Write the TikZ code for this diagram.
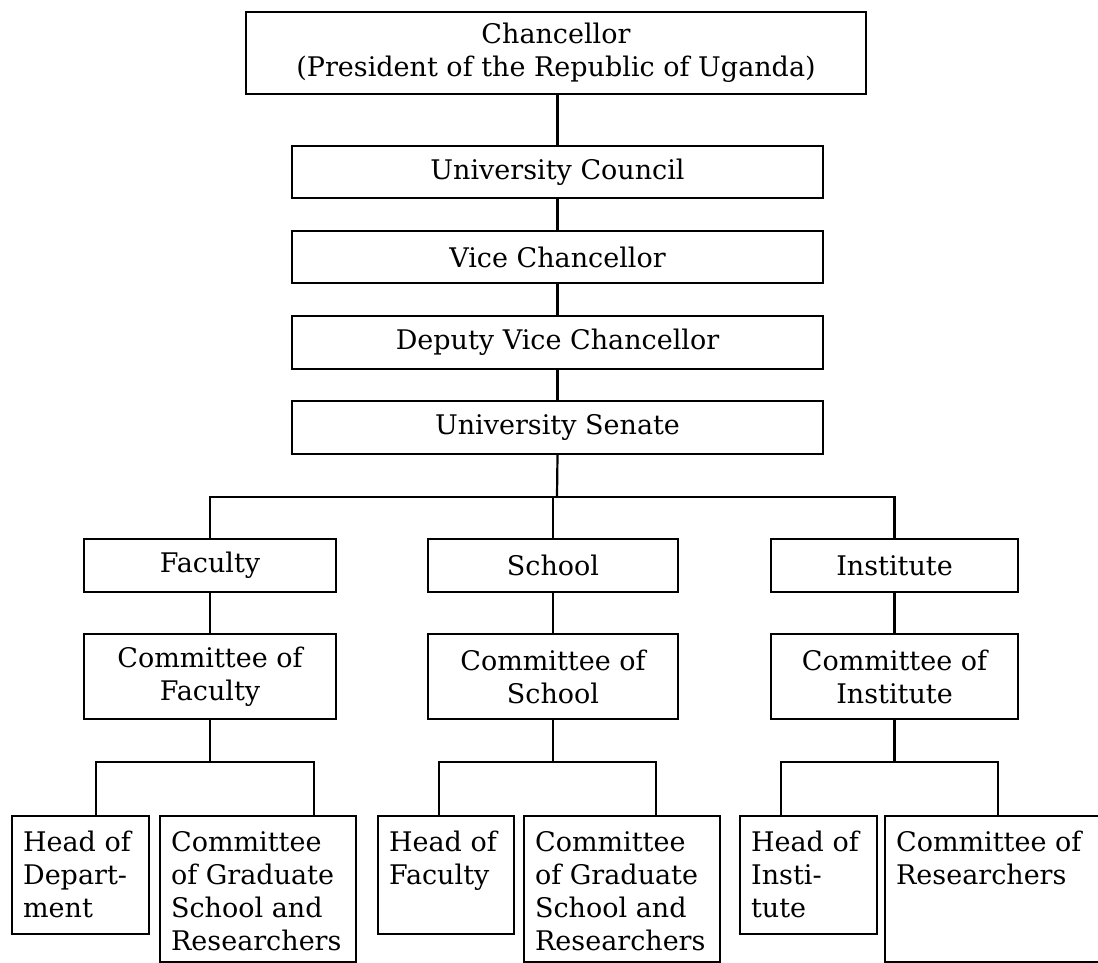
\documentclass[tikz,border=0pt]{standalone}
\usepackage{fontspec}
\setmainfont{DejaVu Serif}
\newcommand{\lowtext}[3]{\parbox[c][#2][t]{#1}{\raggedright\leftskip=11pt\relax\vspace*{12pt}\strut #3}}
\begin{document}
\begin{tikzpicture}[x=1pt,y=-1pt,
  box/.style={draw, line width=2.2pt, inner sep=0pt, align=center,
    font=\fontsize{27}{33}\selectfont},
  lowbox/.style={draw, line width=2.2pt, inner sep=0pt, anchor=north west,
    font=\fontsize{27}{33}\selectfont},
  link/.style={line width=2.2pt}]
\useasboundingbox (0,0) rectangle (1098,963);
\clip (0,0) rectangle (1098,963);
% central column
\node[box, minimum width=620pt, minimum height=82pt] (ch) at (556,53)
  {Chancellor\\(President of the Republic of Uganda)};
\node[box, minimum width=531pt, minimum height=52pt] (uc) at (557.5,172) {University Council};
\node[box, minimum width=531pt, minimum height=52pt] (vc) at (557.5,257) {Vice Chancellor};
\node[box, minimum width=531pt, minimum height=53pt] (dvc) at (557.5,342.5) {Deputy Vice Chancellor};
\node[box, minimum width=531pt, minimum height=53pt] (sen) at (557.5,427.5) {University Senate};
% second level
\node[box, minimum width=252pt, minimum height=53pt] (fac) at (210,565.5) {Faculty};
\node[box, minimum width=250pt, minimum height=53pt] (sch) at (553,565.5) {School};
\node[box, minimum width=247pt, minimum height=53pt] (ins) at (894.5,565.5) {Institute};
\node[box, minimum width=252pt, minimum height=85pt] (cf) at (210,676.5) {Committee of\\Faculty};
\node[box, minimum width=250pt, minimum height=85pt] (cs) at (553,676.5) {Committee of\\School};
\node[box, minimum width=247pt, minimum height=85pt] (ci) at (894.5,676.5) {Committee of\\Institute};
% bottom level
\node[lowbox] (hd) at (11,815) {\lowtext{137pt}{118pt}{Head of\\Depart-\\ment}};
\node[lowbox] (cg1) at (159,815) {\lowtext{196pt}{146pt}{Committee\\of Graduate\\School and\\Researchers}};
\node[lowbox] (hf) at (377,815) {\lowtext{136pt}{118pt}{Head of\\Faculty}};
\node[lowbox] (cg2) at (523,815) {\lowtext{196pt}{146pt}{Committee\\of Graduate\\School and\\Researchers}};
\node[lowbox] (hi) at (739,815) {\lowtext{137pt}{118pt}{Head of\\Insti-\\tute}};
\node[lowbox] (cr) at (884,815) {\lowtext{240pt}{146pt}{Committee of\\Researchers}};
% bus coordinates
\coordinate (bar) at (557,497);
\coordinate (lb1) at (96,762);
\coordinate (lb2) at (314,762);
\coordinate (mb1) at (439,762);
\coordinate (mb2) at (656,762);
\coordinate (rb1) at (781,762);
\coordinate (rb2) at (998,762);
% connectors
\draw[link] (ch.south -| uc.north) -- (uc.north);
\draw[link] (uc.south) -- (vc.north);
\draw[link] (vc.south) -- (dvc.north);
\draw[link] (dvc.south) -- (sen.north);
\draw[link] (sen.south) -- (bar);
\draw[link] (fac.north) |- (bar) -| (ins.north);
\draw[link] (sch.north) -- (sch.north |- bar);
\draw[link] (fac.south) -- (cf.north);
\draw[link] (sch.south) -- (cs.north);
\draw[link] (ins.south) -- (ci.north);
\draw[link] (cf.south) -- (cf.south |- lb1);
\draw[link] (cs.south) -- (cs.south |- mb1);
\draw[link] (ci.south) -- (ci.south |- rb1);
\draw[link] (hd.north -| lb1) -- (lb1) -- (lb2) -- (cg1.north -| lb2);
\draw[link] (hf.north -| mb1) -- (mb1) -- (mb2) -- (cg2.north -| mb2);
\draw[link] (hi.north -| rb1) -- (rb1) -- (rb2) -- (cr.north -| rb2);
\end{tikzpicture}
\end{document}
